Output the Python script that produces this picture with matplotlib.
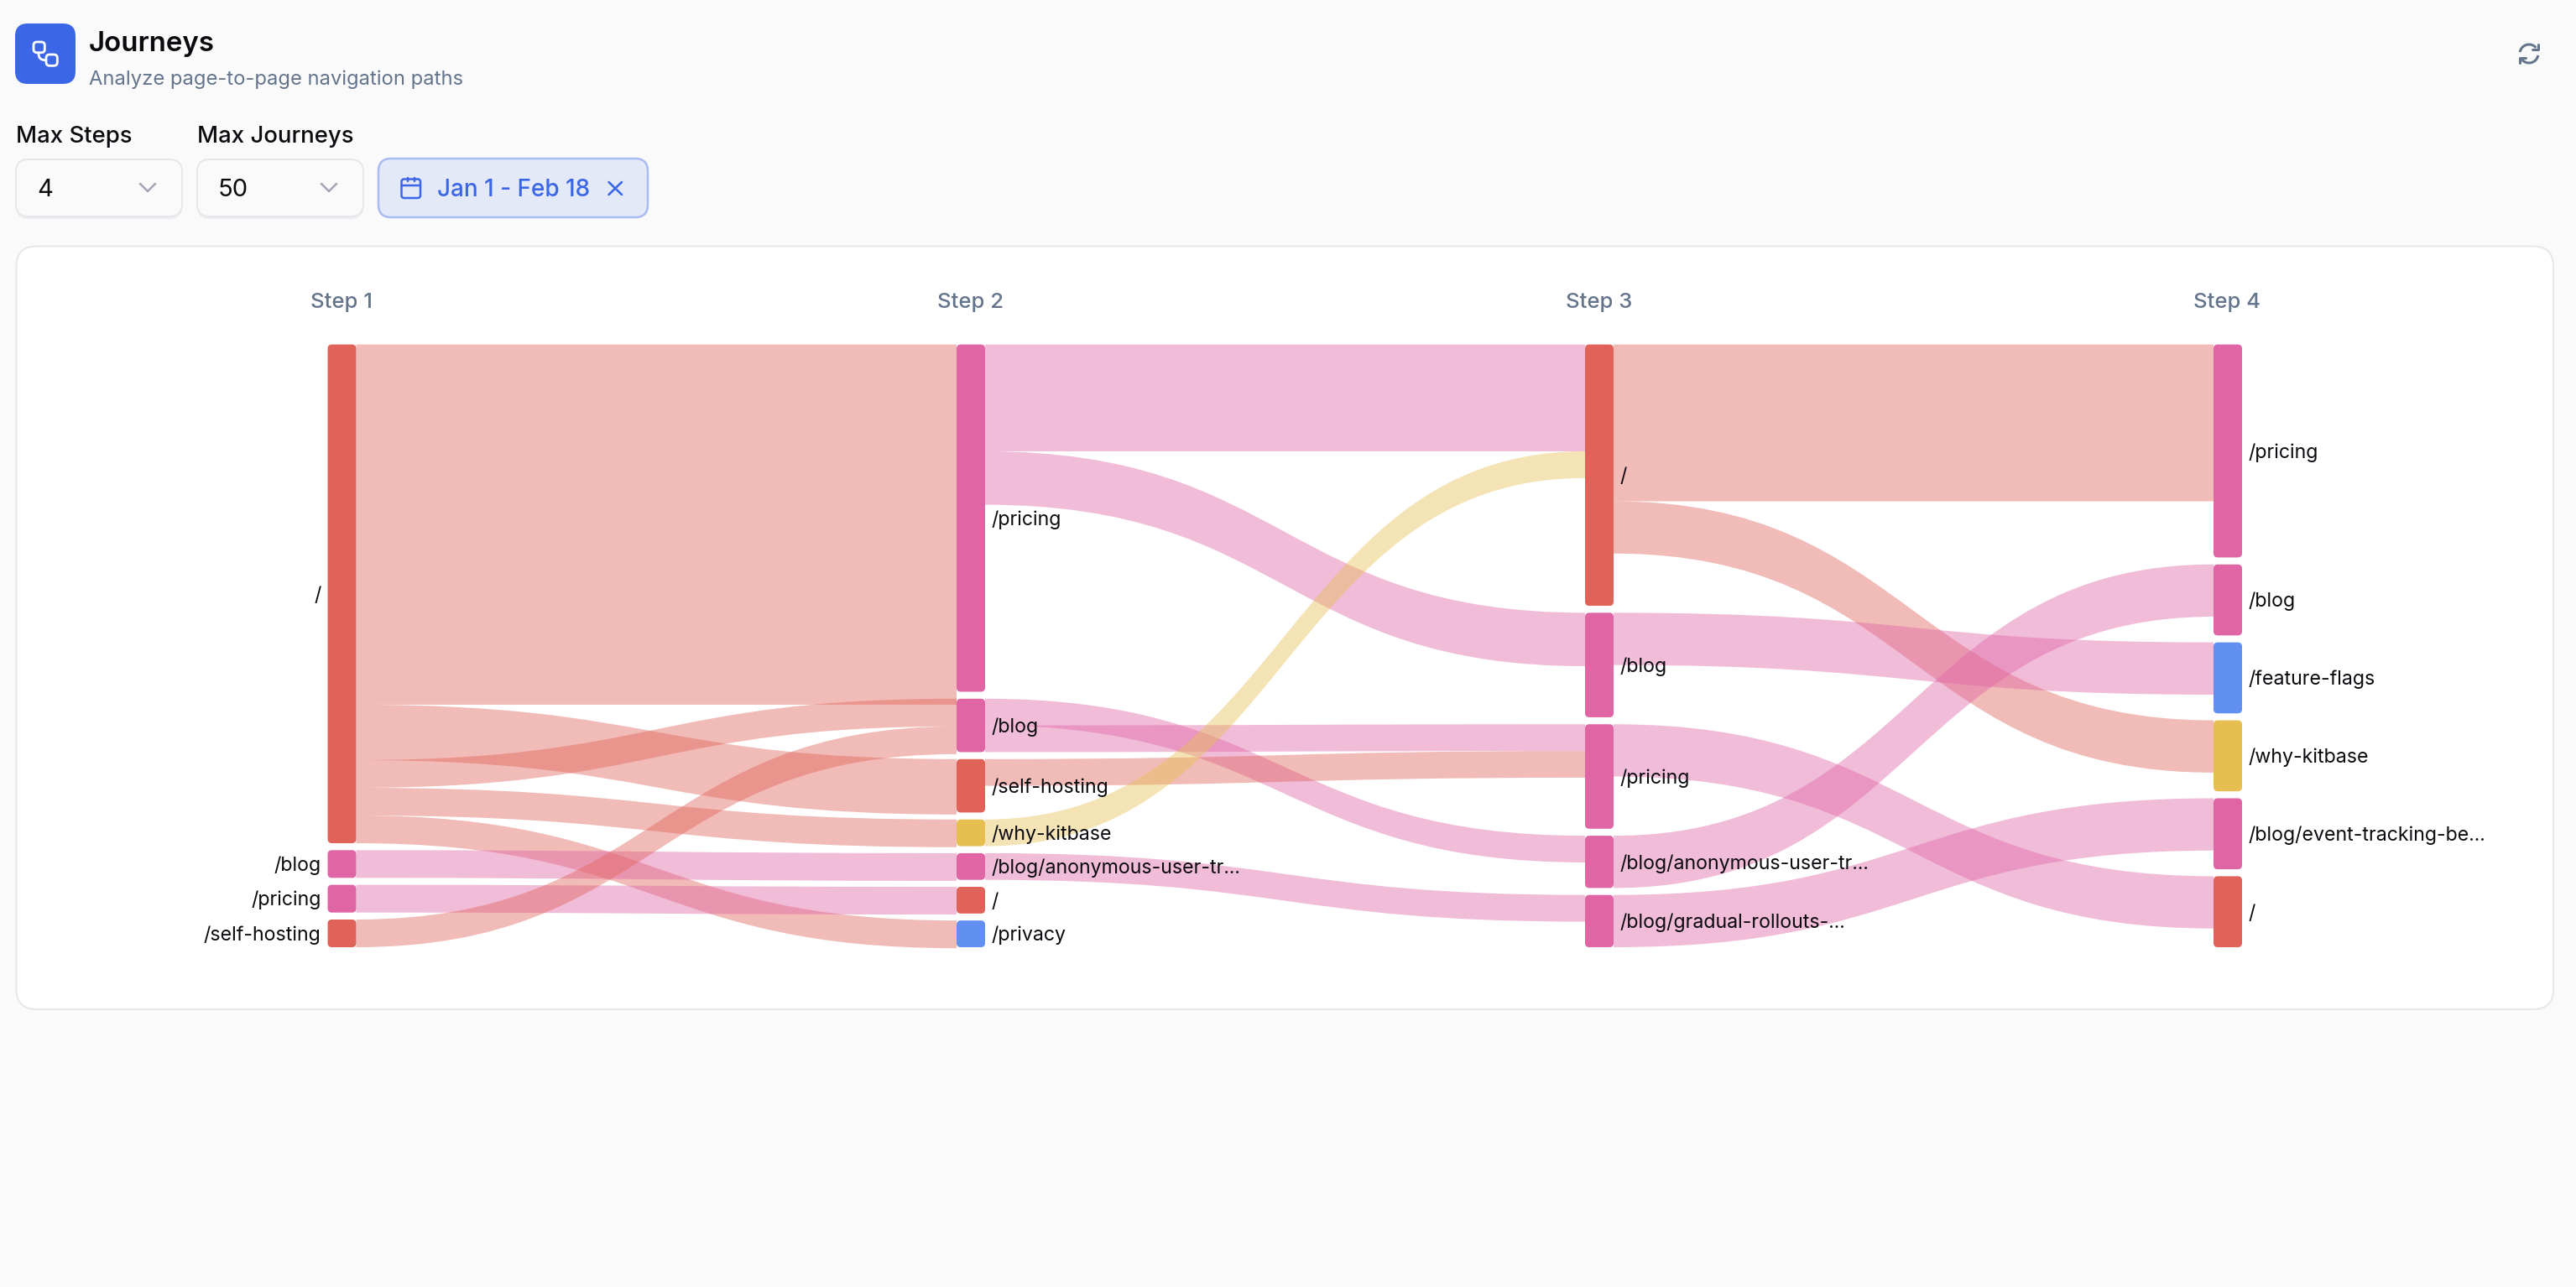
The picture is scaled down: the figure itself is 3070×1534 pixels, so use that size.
import numpy as np
import matplotlib
matplotlib.use('Agg')
import matplotlib.pyplot as plt
from matplotlib.patches import FancyBboxPatch, PathPatch, Arc, Rectangle
from matplotlib.path import Path

plt.rcParams['font.family'] = ['Inter', 'DejaVu Sans']

# ---- data ----
step_labels = ['Step 1', 'Step 2', 'Step 3', 'Step 4']

col1_pages = ['/', '/blog', '/pricing', '/self-hosting']
col1_values = [18, 1, 1, 1]
col2_pages = ['/pricing', '/blog', '/self-hosting', '/why-kitbase',
              '/blog/anonymous-user-tr...', '/', '/privacy']
col2_values = [13, 2, 2, 1, 1, 1, 1]
col3_pages = ['/', '/blog', '/pricing', '/blog/anonymous-user-tr...', '/blog/gradual-rollouts-...']
col3_values = [5, 2, 2, 1, 1]
col4_pages = ['/pricing', '/blog', '/feature-flags', '/why-kitbase',
              '/blog/event-tracking-be...', '/']
col4_values = [3, 1, 1, 1, 1, 1]

# links (source index, target index, value)
links12_src = [0, 0, 0, 0, 0, 1, 2, 3]
links12_dst = [0, 2, 1, 3, 6, 4, 5, 1]
links12_val = [13, 2, 1, 1, 1, 1, 1, 1]
links23_src = [0, 0, 1, 1, 2, 3, 4]
links23_dst = [0, 1, 3, 2, 2, 0, 4]
links23_val = [4, 2, 1, 1, 1, 1, 1]
links34_src = [0, 0, 1, 2, 3, 4]
links34_dst = [0, 3, 2, 5, 1, 4]
links34_val = [3, 1, 1, 1, 1, 1]

page_colors = {'/': '#E06359', '/self-hosting': '#E06359', '/why-kitbase': '#E6BE52',
               '/privacy': '#6190F2', '/feature-flags': '#6190F2'}
default_page_color = '#DF65A5'

# ---- canvas ----
W, H = 3070, 1534
fig = plt.figure(figsize=(W / 100, H / 100), dpi=100, facecolor='#FAFAFA')
ax = fig.add_axes([0, 0, 1, 1])
ax.set_xlim(0, W)
ax.set_ylim(H, 0)
ax.axis('off')
PX = 0.72
INK = '#0A0A0F'
SLATE = '#64748B'
BLUE = '#3B66E8'


def rbox(x0, y0, x1, y1, r, fc='none', ec='none', lw=0, z=1):
    p = FancyBboxPatch((x0, y0), x1 - x0, y1 - y0, boxstyle=f'round,pad=0,rounding_size={r}',
                       fc=fc, ec=ec, lw=lw * PX, zorder=z)
    ax.add_patch(p)
    return p


def line(xs, ys, c, lw, z=5):
    ax.plot(xs, ys, color=c, lw=lw * PX, solid_capstyle='round', solid_joinstyle='round', zorder=z)


# header
rbox(18, 28, 90, 100, 15, fc=BLUE)
rbox(40, 50, 53.3, 62.7, 4, ec='white', lw=2.8, z=3)
rbox(55, 65, 68.3, 78.3, 4, ec='white', lw=2.8, z=3)
ax.add_patch(PathPatch(Path([(46, 63), (46, 69), (48, 71.7), (55, 71.7)],
                            [Path.MOVETO, Path.CURVE4, Path.CURVE4, Path.CURVE4]),
                       fc='none', ec='white', lw=2.8 * PX, zorder=5))
ax.text(106, 52, 'Journeys', fontsize=23.8, fontweight='semibold', color=INK, va='center', ha='left')
ax.text(106.5, 94.5, 'Analyze page-to-page navigation paths', fontsize=17.1, color=SLATE, va='center', ha='left')

# refresh icon
cx, cy, rr = 3014, 64, 11
ax.add_patch(Arc((cx, cy), 2 * rr, 2 * rr, theta1=190, theta2=320, color=SLATE, lw=3 * PX, zorder=5))
ax.add_patch(Arc((cx, cy), 2 * rr, 2 * rr, theta1=10, theta2=140, color=SLATE, lw=3 * PX, zorder=5))
line([3025, 3025, 3018], [52.5, 58.5, 58.5], SLATE, 3)
line([3003, 3003, 3010], [75, 68.5, 68.5], SLATE, 3)

# controls
ax.text(19, 163, 'Max Steps', fontsize=19.8, fontweight='medium', color=INK, va='center')
ax.text(235, 163, 'Max Journeys', fontsize=19.8, fontweight='medium', color=INK, va='center')
for x0, x1, txt in [(19, 217, '4'), (235, 433, '50')]:
    rbox(x0, 192, x1, 261, 15, fc='#ECEEF1', z=1)
    rbox(x0, 190, x1, 258, 15, fc='#FAFAFA', ec='#E5E7EB', lw=2, z=2)
    ax.text(x0 + 25, 226, txt, fontsize=21, color=INK, va='center', zorder=5)
    line([x1 - 50, x1 - 41, x1 - 32], [219, 228, 219], '#A3A9B5', 2.6)
rbox(451, 189, 772, 259, 15, fc='#E4E9F8', ec='#A9BDF3', lw=2.5, z=2)
rbox(478.5, 213.5, 501, 236, 3, ec=BLUE, lw=2.5, z=5)
line([478.5, 501], [221, 221], BLUE, 2.5)
line([485.7, 485.7], [212, 216], BLUE, 2.5)
line([494.3, 494.3], [212, 216], BLUE, 2.5)
ax.text(521, 226, 'Jan 1 - Feb 18', fontsize=20.1, fontweight='medium', color=BLUE, va='center', zorder=5)
line([725.5, 741], [217, 232], BLUE, 2.6)
line([741, 725.5], [217, 232], BLUE, 2.6)

# card
rbox(19.5, 293.5, 3043, 1203, 24, fc='white', ec='#E5E7EB', lw=2, z=1)

# ---- sankey ----
cols_pages = [col1_pages, col2_pages, col3_pages, col4_pages]
cols_values = [col1_values, col2_values, col3_values, col4_values]
col_x0 = [390.5, 1140, 1889, 2638]
node_w = 34
top, bottom, gap = 410.6, 1129.0, 8.3

col_tops, col_scale = [], []
for vals in cols_values:
    s = (bottom - top - gap * (len(vals) - 1)) / sum(vals)
    col_scale.append(s)
    ys, y = [], top
    for v in vals:
        ys.append(y)
        y += v * s + gap
    col_tops.append(ys)

all_links = [(links12_src, links12_dst, links12_val),
             (links23_src, links23_dst, links23_val),
             (links34_src, links34_dst, links34_val)]
for c, (srcs, dsts, vals) in enumerate(all_links):
    s_off = list(col_tops[c])
    d_off = list(col_tops[c + 1])
    xa = col_x0[c] + node_w
    xb = col_x0[c + 1]
    xm = (xa + xb) / 2
    for a, b, v in zip(srcs, dsts, vals):
        h = v * col_scale[c]
        y0, y1 = s_off[a], d_off[b]
        s_off[a] += h
        d_off[b] += h
        verts = [(xa, y0), (xm, y0), (xm, y1), (xb, y1), (xb, y1 + h),
                 (xm, y1 + h), (xm, y0 + h), (xa, y0 + h), (xa, y0)]
        codes = [Path.MOVETO, Path.CURVE4, Path.CURVE4, Path.CURVE4, Path.LINETO,
                 Path.CURVE4, Path.CURVE4, Path.CURVE4, Path.CLOSEPOLY]
        color = page_colors.get(cols_pages[c][a], default_page_color)
        ax.add_patch(PathPatch(Path(verts, codes), fc=color, ec='none', lw=0, alpha=0.43, zorder=2))

for c, (pages, vals) in enumerate(zip(cols_pages, cols_values)):
    x0 = col_x0[c]
    ax.text(x0 + node_w / 2 - 0.5, 360.5, step_labels[c], fontsize=18.5, fontweight='medium', color=SLATE,
            ha='center', va='center', zorder=6)
    for p, v, y in zip(pages, vals, col_tops[c]):
        h = v * col_scale[c]
        rbox(x0, y, x0 + node_w, y + h, 5, fc=page_colors.get(p, default_page_color), z=3)
        if c == 0:
            ax.text(x0 - 8, y + h / 2 + 2, p, fontsize=16.7, color=INK, ha='right', va='center', zorder=6)
        else:
            ax.text(x0 + node_w + 7, y + h / 2 + 2, p, fontsize=16.7, color=INK, ha='left', va='center', zorder=6)

fig.savefig('out.png', dpi=100, facecolor=fig.get_facecolor())
